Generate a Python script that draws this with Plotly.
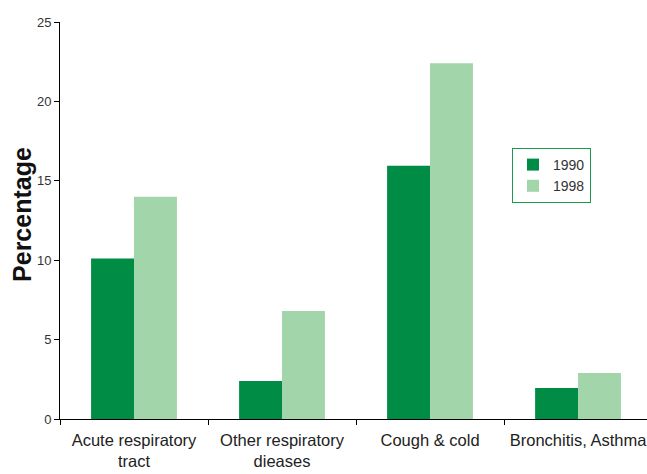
import plotly.graph_objects as go

categories = ["Acute respiratory<br>tract", "Other respiratory<br>dieases", "Cough & cold", "Bronchitis, Asthma"]
series_1990 = [10.1, 2.4, 15.95, 1.95]
series_1998 = [14.0, 6.8, 22.4, 2.9]
y_ticks = [0, 5, 10, 15, 20, 25]

fig = go.Figure()
fig.add_trace(go.Bar(name="1990", x=categories, y=series_1990, marker=dict(color="#008c45", line=dict(width=0))))
fig.add_trace(go.Bar(name="1998", x=categories, y=series_1998, marker=dict(color="#a3d5ab", line=dict(width=0))))

fig.update_layout(
    width=647, height=474,
    margin=dict(l=60, r=0, t=22, b=55),
    paper_bgcolor="white", plot_bgcolor="white",
    barmode="group", bargap=0.42, bargroupgap=0,
    font=dict(family="Liberation Sans, Arial, sans-serif", color="#222"),
    showlegend=True,
    legend=dict(
        x=0.77, y=0.6826, xanchor="left", yanchor="top",
        bordercolor="#1a9a50", borderwidth=1, bgcolor="white",
        font=dict(size=14, color="#333"),
        traceorder="normal",
    ),
    xaxis=dict(
        type="category", range=[-0.5, 3.466], automargin=False,
        showline=True, linecolor="black", linewidth=1,
        ticks="outside", tickson="boundaries", ticklen=5, tickcolor="black",
        tickfont=dict(size=16.5, color="#222"), ticklabelstandoff=6,
        showgrid=False, zeroline=False,
    ),
    yaxis=dict(
        range=[0, 25], tickvals=y_ticks, automargin=False,
        showline=True, linecolor="black", linewidth=1,
        ticks="outside", ticklen=5, tickcolor="black",
        tickfont=dict(size=13, color="#333"),
        showgrid=False, zeroline=False,
    ),
    annotations=[dict(
        text="<b>Percentage</b>", textangle=-90,
        xref="paper", yref="paper", x=0, y=0.514, xanchor="center", yanchor="middle",
        xshift=-38, showarrow=False, font=dict(size=25, color="#111"),
    )],
)

fig.write_html("out.html", config={"displayModeBar": False},
               post_script="document.body.style.margin='0';")
